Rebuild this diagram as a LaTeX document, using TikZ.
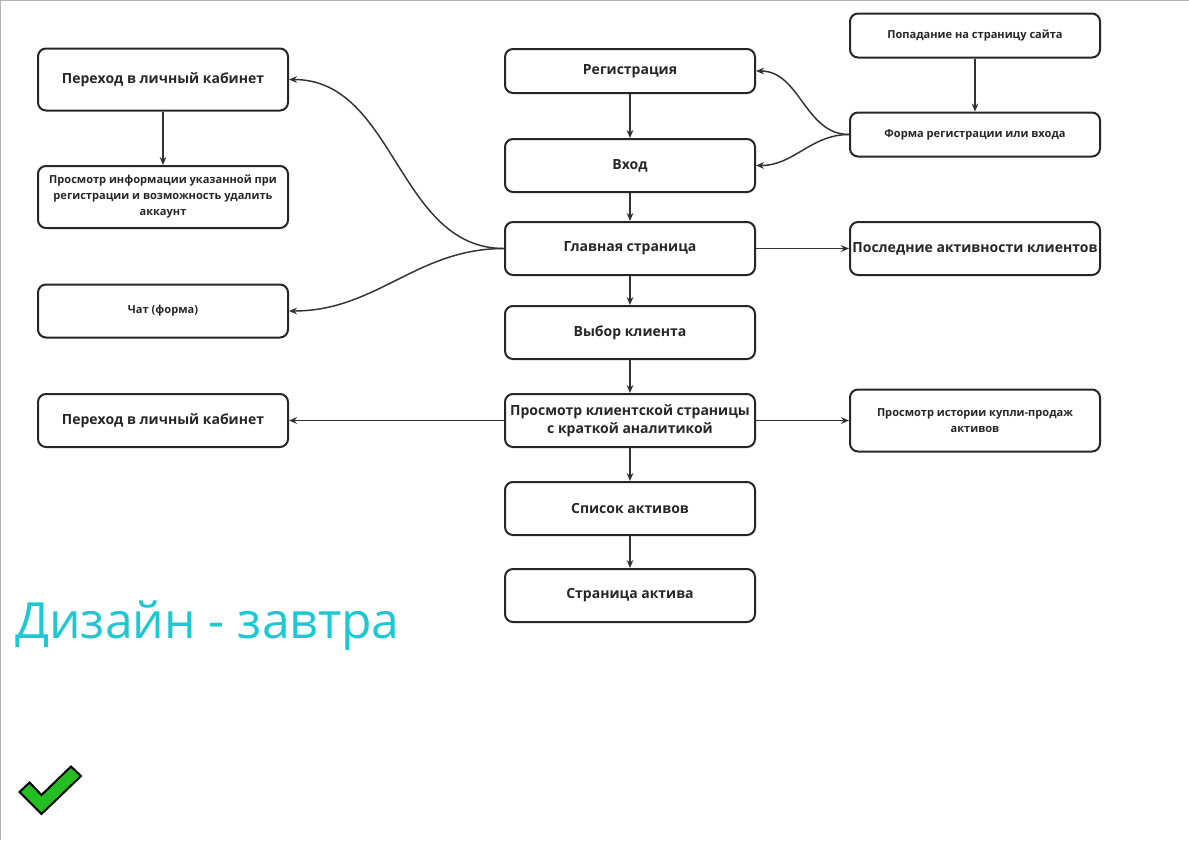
\documentclass[tikz,border=0pt]{standalone}
\usepackage{fontspec}
\setmainfont{Open Sans}
\usetikzlibrary{positioning,arrows.meta}
\definecolor{titlecyan}{RGB}{30,200,210}
\definecolor{tickgreen}{RGB}{34,190,34}
\definecolor{linegray}{RGB}{50,50,50}
\tikzset{
  block/.style={
    draw=black!85,
    line width=1.5pt,
    rectangle,
    rounded corners=6pt,
    minimum height=39.75pt,
    minimum width=187.5pt,
    inner xsep=1pt,
    align=center,
    text=black!85,
    font=\bfseries\fontsize{10.5}{13.5}\selectfont
  },
  smallblock/.style={
    block,
    font=\bfseries\fontsize{8.3}{12}\selectfont
  },
  line/.style={-{Stealth[length=6pt,width=5pt]},line width=1.1pt,draw=linegray}
}
\begin{document}
\begin{tikzpicture}[x=0.75pt,y=-0.75pt]

	\useasboundingbox (0,0) rectangle (1189,840);
	\draw[black!30,line width=1pt] (0,840) -- (0,0.5) -- (1189,0.5);

	% middle column
	\node[block, minimum height=33pt] (registration) at (630,71) {Регистрация};
	\node[block] (login) at (630,165.5) {Вход};
	\node[block] (main_page) at (630,248.5) {Главная страница};
	\node[block] (client_choice) at (630,332.5) {Выбор клиента};
	\node[block] (client_page) at (630,420.5) {Просмотр клиентской страницы\\с краткой аналитикой};
	\node[block] (asset_list) at (630,508.5) {Список активов};
	\node[block] (asset_page) at (630,595.5) {Страница актива};

	\draw[line] (registration) -- (login);
	\draw[line] (login) -- (main_page);
	\draw[line] (main_page) -- (client_choice);
	\draw[line] (client_choice) -- (client_page);
	\draw[line] (client_page) -- (asset_list);
	\draw[line] (asset_list) -- (asset_page);

	% right column
	\node[smallblock, minimum height=33pt] (site_visit) at (975,35.5) {Попадание на страницу сайта};
	\node[smallblock, minimum height=33pt] (auth_form) at (975,134.5) {Форма регистрации или входа};
	\node[block] (last_activity) at (975,248.5) {Последние активности клиентов};
	\node[smallblock, minimum height=46.5pt] (history) at (975,420.5) {Просмотр истории купли-продаж\\активов};

	\draw[line] (site_visit) -- (auth_form);
	\draw[line] (auth_form.west) to[out=180,in=0] (registration.east);
	\draw[line] (auth_form.west) to[out=180,in=0] (login.east);
	\draw[line] (main_page) -- (last_activity);
	\draw[line] (client_page) -- (history);

	% left column
	\node[block, minimum height=46.5pt] (cabinet_top) at (163,79.5) {Переход в личный кабинет};
	\node[smallblock, minimum height=46.5pt] (account_info) at (163,197) {Просмотр информации указанной при\\регистрации и возможность удалить\\аккаунт};
	\node[smallblock] (chat) at (163,311) {Чат (форма)};
	\node[block] (cabinet_bottom) at (163,420.5) {Переход в личный кабинет};

	\draw[line] (cabinet_top) -- (account_info);
	\draw[line] (main_page.west) to[out=180,in=0] (cabinet_top.east);
	\draw[line] (main_page.west) to[out=180,in=0] (chat.east);
	\draw[line] (client_page) -- (cabinet_bottom);

	% note
	\node[anchor=base west, inner sep=0pt, text=titlecyan, font=\fontsize{37.4}{45}\selectfont] (design_note) at (15,638) {Дизайн - завтра};
	\draw[fill=tickgreen, line width=1.5pt, line join=miter] (19.5,792) -- (29.5,782.5) -- (41.5,795) -- (71,766.5) -- (81,776) -- (41.5,814) -- cycle;

\end{tikzpicture}
\end{document}
